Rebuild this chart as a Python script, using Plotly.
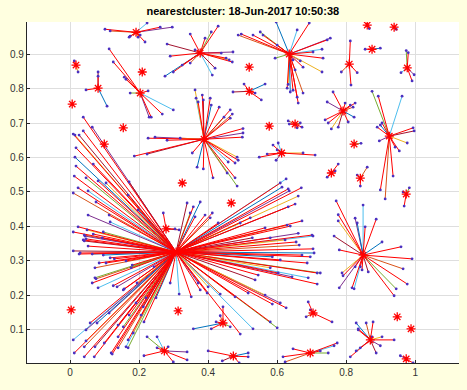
import plotly.graph_objects as go

# cluster centres (red asterisks)
center_x = [0.191, 0.377, 0.635, 0.861, 0.939, 0.875, 0.809, 0.977, 0.017, 0.081,
            0.209, 0.006, 0.203, 0.154, 0.099, 0.388, 0.519, 0.519, 0.577, 0.652,
            0.791, 0.925, 0.823, 0.613, 0.325, 0.467, 0.757, 0.841, 0.974, 0.307,
            0.278, 0.003, 0.313, 0.443, 0.849, 0.704, 0.948, 0.988, 0.870, 0.273,
            0.473, 0.696, 0.974]
center_y = [0.963, 0.903, 0.900, 0.984, 0.978, 0.914, 0.871, 0.860, 0.868, 0.801,
            0.848, 0.755, 0.787, 0.686, 0.639, 0.653, 0.862, 0.792, 0.691, 0.697,
            0.735, 0.662, 0.639, 0.613, 0.526, 0.468, 0.555, 0.540, 0.494, 0.326,
            0.393, 0.158, 0.155, 0.120, 0.317, 0.149, 0.138, 0.103, 0.071, 0.039,
            0.024, 0.033, 0.016]

# member points of each cluster (same order as centres)
member_x = [
    [0.101, 0.116, 0.171, 0.174, 0.217, 0.223, 0.261, 0.296, 0.203, 0.197],
    [0.348, 0.281, 0.290, 0.275, 0.299, 0.325, 0.348, 0.391, 0.409, 0.429, 0.412, 0.438, 0.472, 0.470, 0.461, 0.452, 0.420, 0.362],
    [0.597, 0.693, 0.496, 0.487, 0.530, 0.551, 0.559, 0.658, 0.745, 0.754, 0.733, 0.730, 0.675, 0.646, 0.629, 0.638, 0.658, 0.661, 0.675, 0.646, 0.594, 0.704, 0.730, 0.600, 0.667, 0.652, 0.632],
    [0.867],
    [0.945],
    [0.855, 0.899],
    [0.812, 0.814, 0.786, 0.832],
    [0.974, 0.980, 0.959, 0.991, 0.997],
    [0.012, 0.023],
    [0.046, 0.081, 0.081, 0.107],
    [],
    [],
    [0.113, 0.125, 0.157, 0.162, 0.174, 0.226, 0.299, 0.267, 0.229, 0.235],
    [],
    [],
    [0.362, 0.383, 0.386, 0.406, 0.409, 0.432, 0.464, 0.470, 0.464, 0.446, 0.371, 0.365,
     0.226, 0.246, 0.281, 0.319, 0.186, 0.223, 0.354,
     0.368, 0.386, 0.414, 0.455, 0.478, 0.484, 0.478, 0.458,
     0.501, 0.501, 0.499, 0.484, 0.487],
    [],
    [0.472, 0.504, 0.565, 0.554, 0.536],
    [],
    [0.632, 0.635, 0.667, 0.672, 0.658],
    [0.762, 0.745, 0.739, 0.757, 0.748, 0.777, 0.806, 0.823, 0.826, 0.812, 0.820, 0.797],
    [0.875, 0.893, 0.962, 0.890, 0.896, 0.954, 0.977, 0.994, 0.997, 0.942, 0.899, 0.904, 0.899, 0.913, 0.936],
    [0.843],
    [0.588, 0.603, 0.548, 0.597, 0.710, 0.675, 0.571, 0.600],
    [],
    [],
    [0.745, 0.768, 0.777],
    [0.841, 0.861, 0.832],
    [0.983, 0.968, 0.965],
    [0.038, 0.064, 0.009, 0.014, 0.038, 0.026, 0.017, 0.014, 0.017, 0.012, 0.009, 0.023, 0.046, 0.067, 0.052, 0.075, 0.052,
     0.081, 0.104, 0.113, 0.171, 0.168, 0.197, 0.009, 0.023, 0.041, 0.046, 0.096, 0.067, 0.116, 0.038, 0.043, 0.093, 0.049, 0.052,
     0.009, 0.029, 0.064, 0.084, 0.104, 0.072, 0.116, 0.072, 0.064, 0.081, 0.125, 0.136, 0.157, 0.194, 0.180, 0.041, 0.026,
     0.096, 0.128, 0.162, 0.075, 0.154, 0.177, 0.243,
     0.009, 0.012, 0.046, 0.041, 0.046, 0.058, 0.072, 0.070, 0.078, 0.099, 0.119, 0.139, 0.139, 0.154, 0.139, 0.162, 0.168,
     0.113, 0.171, 0.183, 0.191, 0.212, 0.214, 0.249, 0.220, 0.206, 0.041, 0.122, 0.168,
     0.290, 0.316, 0.351, 0.371, 0.397, 0.400, 0.377,
     0.339, 0.357, 0.377, 0.391, 0.412, 0.406, 0.429, 0.348, 0.362,
     0.626, 0.632, 0.635, 0.670, 0.661, 0.652, 0.632, 0.609, 0.614, 0.672, 0.638, 0.629, 0.522, 0.493, 0.565, 0.704, 0.701,
     0.661, 0.655, 0.623, 0.580, 0.528, 0.704, 0.707, 0.672, 0.696, 0.664, 0.716, 0.725, 0.716, 0.690, 0.687, 0.643, 0.603,
     0.580, 0.545, 0.536, 0.609, 0.586, 0.478, 0.516, 0.435,
     0.626, 0.600, 0.580, 0.530, 0.493, 0.609, 0.586, 0.565],
    [0.270, 0.316, 0.304],
    [],
    [],
    [0.357, 0.409, 0.443, 0.435, 0.423, 0.464],
    [0.771, 0.849, 0.887, 0.826, 0.777, 0.777, 0.855, 0.765, 0.780, 0.904, 0.959, 0.991, 0.965, 0.977, 0.945, 0.939,
     0.823, 0.817, 0.780, 0.791, 0.788, 0.846, 0.864, 0.826, 0.832, 0.841],
    [0.690, 0.684, 0.759, 0.696],
    [],
    [],
    [0.812, 0.829, 0.841, 0.899, 0.939, 0.904, 0.875, 0.887, 0.835, 0.829, 0.835, 0.878, 0.858],
    [0.214, 0.223, 0.252, 0.252, 0.299, 0.339, 0.339, 0.284],
    [0.400, 0.441, 0.490, 0.516, 0.516],
    [0.617, 0.623, 0.646, 0.748, 0.774, 0.765, 0.725],
    [0.957, 0.994],
]
member_y = [
    [0.972, 0.967, 0.949, 0.952, 0.935, 0.990, 0.978, 0.978, 0.955, 0.949],
    [0.958, 0.929, 0.894, 0.836, 0.848, 0.868, 0.874, 0.946, 0.964, 0.981, 0.839, 0.903, 0.906, 0.877, 0.883, 0.888, 0.859, 0.912],
    [0.993, 0.990, 0.958, 0.955, 0.955, 0.964, 0.955, 0.970, 0.941, 0.946, 0.888, 0.848, 0.862, 0.883, 0.801, 0.790, 0.775, 0.758, 0.787, 0.795, 0.888, 0.906, 0.914, 0.926, 0.880, 0.854, 0.812],
    [0.974],
    [0.972],
    [0.914, 0.917],
    [0.938, 0.810, 0.848, 0.846],
    [0.910, 0.904, 0.846, 0.822, 0.840],
    [0.880, 0.848],
    [0.796, 0.848, 0.836, 0.749],
    [],
    [],
    [0.915, 0.877, 0.833, 0.827, 0.787, 0.793, 0.738, 0.726, 0.717, 0.717],
    [],
    [],
    [0.796, 0.781, 0.767, 0.772, 0.752, 0.746, 0.738, 0.726, 0.714, 0.717, 0.761, 0.772,
     0.656, 0.659, 0.650, 0.656, 0.604, 0.610, 0.613,
     0.572, 0.567, 0.541, 0.555, 0.541, 0.517, 0.584, 0.587,
     0.684, 0.671, 0.659, 0.601, 0.592],
    [],
    [0.790, 0.813, 0.813, 0.767, 0.787],
    [],
    [0.706, 0.697, 0.700, 0.688, 0.686],
    [0.790, 0.761, 0.709, 0.683, 0.700, 0.688, 0.703, 0.717, 0.758, 0.752, 0.746, 0.758],
    [0.792, 0.778, 0.778, 0.688, 0.648, 0.619, 0.642, 0.686, 0.677, 0.630, 0.694, 0.700, 0.506, 0.480, 0.546],
    [0.641],
    [0.636, 0.642, 0.601, 0.592, 0.607, 0.613, 0.610, 0.622],
    [],
    [],
    [0.543, 0.561, 0.581],
    [0.517, 0.572, 0.549],
    [0.512, 0.459, 0.500],
    [0.717, 0.688, 0.668, 0.665, 0.677, 0.665, 0.628, 0.601, 0.575, 0.546, 0.497, 0.512, 0.541, 0.581, 0.503, 0.471, 0.433,
     0.532, 0.526, 0.433, 0.529, 0.491, 0.448, 0.384, 0.399, 0.375, 0.364, 0.384, 0.378, 0.413, 0.361, 0.372, 0.367, 0.390, 0.343,
     0.329, 0.323, 0.320, 0.294, 0.294, 0.280, 0.309, 0.251, 0.236, 0.222, 0.228, 0.225, 0.219, 0.236, 0.288, 0.358, 0.320,
     0.317, 0.306, 0.300, 0.248, 0.216, 0.280, 0.283,
     0.071, 0.033, 0.100, 0.022, 0.068, 0.120, 0.051, 0.022, 0.120, 0.062, 0.033, 0.048, 0.114, 0.109, 0.080, 0.051, 0.071,
     0.149, 0.143, 0.091, 0.178, 0.167, 0.123, 0.193, 0.193, 0.143, 0.051, 0.030, 0.048,
     0.236, 0.204, 0.196, 0.236, 0.207, 0.225, 0.216,
     0.468, 0.457, 0.471, 0.433, 0.439, 0.425, 0.410, 0.439, 0.428,
     0.538, 0.509, 0.503, 0.512, 0.488, 0.465, 0.457, 0.526, 0.514, 0.416, 0.401, 0.404, 0.425, 0.410, 0.396, 0.372, 0.375,
     0.380, 0.355, 0.361, 0.367, 0.367, 0.335, 0.323, 0.317, 0.312, 0.346, 0.265, 0.265, 0.233, 0.251, 0.294, 0.254, 0.265,
     0.280, 0.259, 0.245, 0.303, 0.312, 0.196, 0.207, 0.204,
     0.164, 0.106, 0.123, 0.103, 0.088, 0.178, 0.175, 0.201],
    [0.439, 0.390, 0.393],
    [],
    [],
    [0.103, 0.103, 0.167, 0.141, 0.123, 0.109],
    [0.474, 0.462, 0.421, 0.424, 0.434, 0.416, 0.399, 0.372, 0.332, 0.355, 0.341, 0.306, 0.277, 0.233, 0.219, 0.199,
     0.219, 0.222, 0.222, 0.257, 0.265, 0.274, 0.268, 0.283, 0.410, 0.283],
    [0.181, 0.138, 0.123, 0.158],
    [],
    [],
    [0.022, 0.039, 0.048, 0.054, 0.071, 0.080, 0.080, 0.033, 0.100, 0.120, 0.103, 0.123, 0.120],
    [0.025, 0.080, 0.048, 0.080, 0.007, 0.036, 0.013, 0.051],
    [0.039, 0.010, 0.004, 0.033, 0.022],
    [0.022, 0.007, 0.045, 0.033, 0.062, 0.054, 0.039],
    [0.025, 0.004],
]

title_text = "nearestcluster: 18-Jun-2017 10:50:38"
x_ticks = [0, 0.2, 0.4, 0.6, 0.8, 1]
x_tick_labels = ["0", "0.2", "0.4", "0.6", "0.8", "1"]
y_ticks = [0.1, 0.2, 0.3, 0.4, 0.5, 0.6, 0.7, 0.8, 0.9]
y_tick_labels = ["0.1", "0.2", "0.3", "0.4", "0.5", "0.6", "0.7", "0.8", "0.9"]

# line colour cycle (style), red dominant
palette = ["#FF0000", "#D95319", "#FF0000", "#77AC30", "#FF0000", "#4DBEEE",
           "#FF0000", "#7E2F8E", "#FF0000", "#EDB120", "#FF0000", "#A2142F",
           "#FF0000", "#0072BD", "#FF0000"]

segs = {}
k = 0
for ci in range(len(center_x)):
    for px, py in zip(member_x[ci], member_y[ci]):
        col = palette[k % len(palette)]
        k += 1
        sx, sy = segs.setdefault(col, ([], []))
        sx += [px, center_x[ci], None]
        sy += [py, center_y[ci], None]

fig = go.Figure()
order = [c for c in segs if c != "#FF0000"] + ["#FF0000"]
for col in order:
    sx, sy = segs[col]
    fig.add_trace(go.Scatter(x=sx, y=sy, mode="lines",
                             line=dict(color=col, width=1),
                             hoverinfo="skip", showlegend=False))

all_px = [v for lst in member_x for v in lst]
all_py = [v for lst in member_y for v in lst]
fig.add_trace(go.Scatter(x=all_px, y=all_py, mode="markers",
                         marker=dict(color="#4B30C0", size=2.8),
                         showlegend=False))
fig.add_trace(go.Scatter(x=center_x, y=center_y, mode="markers",
                         marker=dict(symbol="asterisk-open", size=7.5, color="#FF0000",
                                     line=dict(color="#FF0000", width=1.3)),
                         showlegend=False))

fig.update_layout(
    width=467, height=390,
    paper_bgcolor="#FFFFE0", plot_bgcolor="white",
    margin=dict(l=27, r=8, t=22, b=27, autoexpand=False),
    title=dict(text="<b>" + title_text + "</b>", x=0.52, xanchor="center",
               y=0.972, yanchor="middle",
               font=dict(family="Liberation Sans, Arial", size=11, color="black")),
    font=dict(family="Liberation Sans, Arial", size=10, color="#333333"),
    showlegend=False,
)
fig.update_xaxes(range=[-0.125, 1.127], tickvals=x_ticks, ticktext=x_tick_labels,
                 showgrid=True, gridcolor="#DEDEDE", gridwidth=1, zeroline=False,
                 showline=True, linecolor="#262626", linewidth=1.3, automargin=False,
                 ticks="inside", ticklen=3, tickcolor="#262626", mirror=False)
fig.update_yaxes(range=[0.004, 0.993], tickvals=y_ticks, ticktext=y_tick_labels,
                 showgrid=True, gridcolor="#DEDEDE", gridwidth=1, zeroline=False,
                 showline=True, linecolor="#262626", linewidth=1.3, automargin=False,
                 ticks="inside", ticklen=3, tickcolor="#262626", mirror=False)

fig.write_html("out.html", config={"displayModeBar": False},
               post_script="document.body.style.margin='0';document.body.style.background='#FFFFE0';")
